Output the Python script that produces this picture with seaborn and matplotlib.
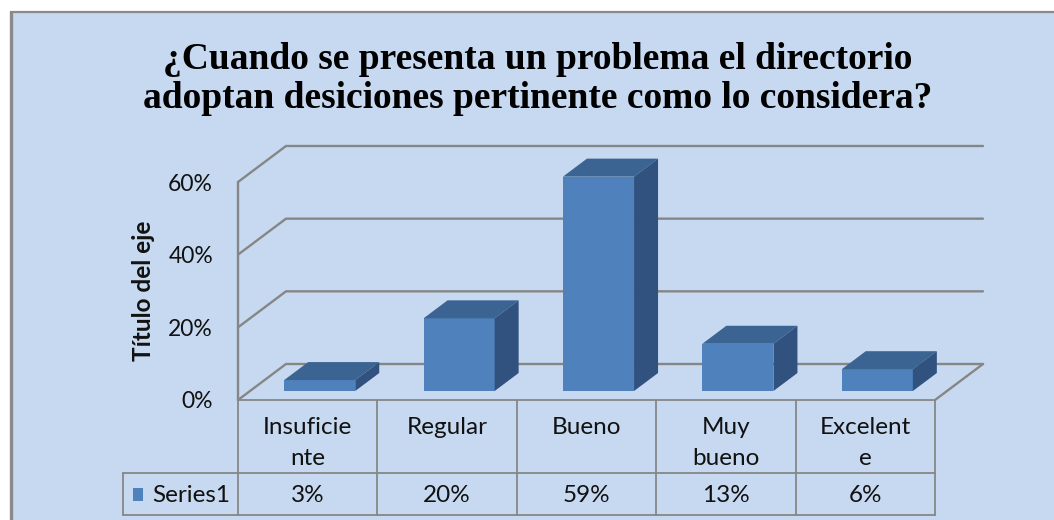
import numpy as np
import pandas as pd
import matplotlib
matplotlib.use("Agg")
import matplotlib.pyplot as plt
import seaborn as sns
from matplotlib.patches import Polygon, Rectangle

# ---------------- data ----------------
categories = ["Insuficiente", "Regular", "Bueno", "Muy bueno", "Excelente"]
category_labels = ["Insuficie\nnte", "Regular", "Bueno", "Muy\nbueno", "Excelent\ne"]
values = [3, 20, 59, 13, 6]
series_name = "Series1"
yticks = [0, 20, 40, 60]
ytick_labels = ["0%", "20%", "40%", "60%"]
title = "¿Cuando se presenta un problema el directorio\nadoptan desiciones pertinente como lo considera?"
axis_title = "Título del eje"

# ---------------- style ----------------
W, H = 1054, 520
BG = "#C6D9F1"
FRONT = "#4F81BD"
TOP = "#3B6492"
SIDE = "#31527F"
GRID = "#868686"
TXT = "#111111"

sns.set_theme(style="white")
plt.rcParams["font.family"] = ["Lato", "DejaVu Sans"]

fig = plt.figure(figsize=(W / 100, H / 100), dpi=100)
fig.patch.set_facecolor("white")

# pixel-coordinate overlay (background, border, table)
pa = fig.add_axes([0, 0, 1, 1], zorder=0)
pa.set_xlim(0, W)
pa.set_ylim(H, 0)
pa.axis("off")
pa.add_patch(Rectangle((10, 11), W - 10, H - 11, facecolor=BG, edgecolor="none"))
pa.plot([10.5, 10.5], [H, 11], color="#8A8A8A", lw=2.4, solid_capstyle="butt")
pa.plot([10, W], [11.5, 11.5], color="#8A8A8A", lw=1.6, solid_capstyle="butt")

# geometry (pixels)
COL = 139.4
X0, Y0 = 238, 400
PXPCT = 218 / 60.0
DXP, DYP = 48, 36
ymax = yticks[-1]
n = len(categories)
ax_left, ax_right = X0, X0 + n * COL + DXP
ax_bottom, ax_top = Y0, Y0 - ymax * PXPCT - DYP

ax = fig.add_axes([ax_left / W, 1 - ax_bottom / H, (ax_right - ax_left) / W, (ax_bottom - ax_top) / H], zorder=2)
ax.patch.set_alpha(0)

df = pd.DataFrame({"cat": categories, "val": values})
sns.barplot(data=df, x="cat", y="val", color=FRONT, saturation=1, width=0.51,
            linewidth=0, ax=ax, zorder=3)

dx = DXP / COL      # full depth in category units
dy = DYP / PXPCT    # full depth in percent units
ax.set_xlim(-0.5, n - 0.5 + dx)
ax.set_ylim(0, ymax + dy)
for s in ax.spines.values():
    s.set_visible(False)

# back walls / gridlines
for t in yticks:
    ax.plot([-0.5, -0.5 + dx, n - 0.5 + dx], [t, t + dy, t + dy], color=GRID, lw=1.7,
            zorder=1, clip_on=False)
ax.plot([n - 0.5 + dx, n - 0.5], [dy, 0], color=GRID, lw=1.7, zorder=1, clip_on=False)
ax.plot([-0.5, -0.5], [0, ymax], color=GRID, lw=1.7, zorder=1, clip_on=False)

# 3D bars: shift front face into the middle of the depth, add top & side faces
fdx, fdy = 0.25 * dx, 0.25 * dy
bdx, bdy = 0.5 * dx, 0.5 * dy
for p in ax.patches:
    x0 = p.get_x() + fdx
    h = p.get_height()
    w = p.get_width()
    p.set_x(x0)
    p.set_y(fdy)
    x1 = x0 + w
    y0, y1 = fdy, fdy + h
    ax.add_patch(Polygon([(x0, y1), (x1, y1), (x1 + bdx, y1 + bdy), (x0 + bdx, y1 + bdy)],
                         closed=True, facecolor=TOP, edgecolor="none", zorder=3))
    ax.add_patch(Polygon([(x1, y0), (x1 + bdx, y0 + bdy), (x1 + bdx, y1 + bdy), (x1, y1)],
                         closed=True, facecolor=SIDE, edgecolor="none", zorder=3))

ax.set_yticks(yticks, ytick_labels)
ax.tick_params(axis="y", length=0, pad=18, labelsize=16.5, labelcolor=TXT)
ax.tick_params(axis="x", length=0, labelbottom=False)
ax.set_xlabel("")
ax.set_ylabel(axis_title, fontsize=17.5, fontweight="bold", color=TXT)
ax.yaxis.set_label_coords((155 - ax_left) / (ax_right - ax_left),
                          (ax_bottom - 291) / (ax_bottom - ax_top))

# ---------------- data table ----------------
ROW1, ROW2, ROW3 = 400, 473, 515
LEFT = 123
xb = [X0 + k * COL for k in range(n + 1)]
tc = dict(color=GRID, lw=1.3, zorder=1)
pa.plot([xb[0], xb[-1]], [ROW1, ROW1], **tc)
pa.plot([LEFT, xb[-1]], [ROW2, ROW2], **tc)
pa.plot([LEFT, xb[-1]], [ROW3, ROW3], **tc)
for xv in xb:
    pa.plot([xv, xv], [ROW1, ROW3], **tc)
pa.plot([LEFT, LEFT], [ROW2, ROW3], **tc)

LINE_BASE = [434, 465]
for i, (lab, v) in enumerate(zip(category_labels, values)):
    cx = (xb[i] + xb[i + 1]) / 2
    for yb, line in zip(LINE_BASE, lab.split("\n")):
        pa.text(cx, yb, line, ha="center", va="baseline", fontsize=17.5, color=TXT)
    pa.text(cx, 502, f"{v}%", ha="center", va="baseline", fontsize=17.5, color=TXT)

pa.add_patch(Rectangle((133, 488), 10, 13, facecolor=FRONT, edgecolor="none"))
pa.text(152, 502, series_name, ha="left", va="baseline", fontsize=17.5, color=TXT)

# ---------------- title ----------------
pa.text(538, 79, title, ha="center", va="center", fontsize=27, fontweight="bold",
        family=["Liberation Serif", "DejaVu Serif"], linespacing=1.12, color="black")

fig.savefig("out.png", dpi=100, facecolor="white")
